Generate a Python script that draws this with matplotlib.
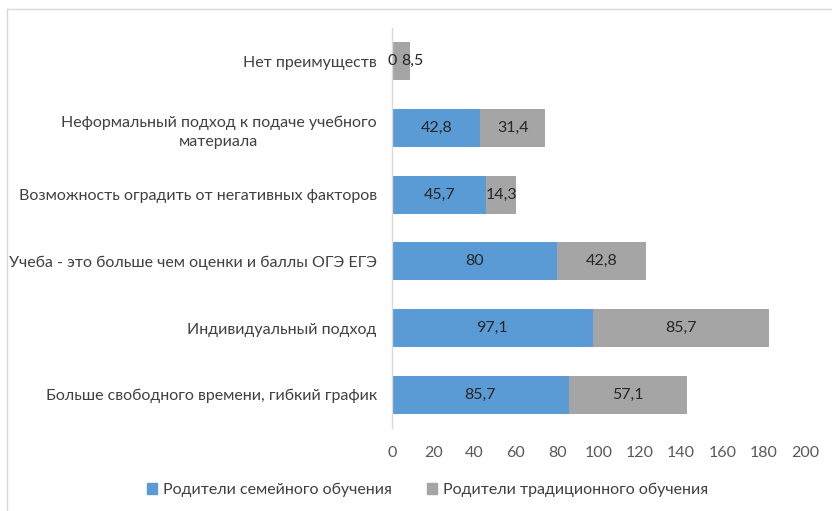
import matplotlib
matplotlib.use("Agg")
import matplotlib.pyplot as plt
from matplotlib.lines import Line2D
from matplotlib.patches import Patch

plt.rcParams['font.family'] = ['Lato', 'DejaVu Sans']

categories = [
    "Больше свободного времени, гибкий график",
    "Индивидуальный подход",
    "Учеба - это больше чем оценки и баллы ОГЭ ЕГЭ",
    "Возможность оградить от негативных факторов",
    "Неформальный подход к подаче учебного\nматериала",
    "Нет преимуществ",
]
family = [85.7, 97.1, 80, 45.7, 42.8, 0]
traditional = [57.1, 85.7, 42.8, 14.3, 31.4, 8.5]
series_names = ["Родители семейного обучения", "Родители традиционного обучения"]
xticks = [0, 20, 40, 60, 80, 100, 120, 140, 160, 180, 200]

blue = "#5B9BD5"
gray = "#A5A5A5"
txt = "#595959"
fs = 11.5

fig = plt.figure(figsize=(8.32, 5.11), dpi=100)
ax = fig.add_axes([392/832, 1-428/511, (805-392)/832, 400/511])

y = list(range(len(categories)))
h = 0.57
ax.barh(y, family, height=h, color=blue, label=series_names[0])
ax.barh(y, traditional, left=family, height=h, color=gray, label=series_names[1])

def fmt(v):
    return f"{v:g}".replace(".", ",")

for i in y:
    f, t = family[i], traditional[i]
    ax.text(f/2, i, fmt(f), ha='center', va='center', fontsize=fs, color="#262626")
    dx = 0
    if f < 10 and t < 10:
        dx = 12 / 2.065
    ax.text(f + t/2 + dx, i, fmt(t), ha='center', va='center', fontsize=fs, color="#262626")

ax.set_xlim(0, 200)
ax.set_ylim(-0.5, len(categories) - 0.5)
ax.set_xticks(xticks)
ax.set_xticklabels([str(v) for v in xticks], fontsize=fs, color=txt)
ax.set_yticks(y)
ax.set_yticklabels(categories, fontsize=fs, color="#404040", multialignment='center',
                   linespacing=1.45)
ax.tick_params(axis='both', length=0)
ax.tick_params(axis='x', pad=13)
ax.tick_params(axis='y', pad=11)
for s in ['top', 'right', 'bottom']:
    ax.spines[s].set_visible(False)
ax.spines['left'].set_color('#D9D9D9')
ax.spines['left'].set_linewidth(1)

handles = [Patch(color=blue), Patch(color=gray)]
fig.legend(handles, series_names, loc='center', bbox_to_anchor=(428/832, 1-490/511),
           ncol=2, frameon=False, fontsize=fs, handlelength=0.6, handleheight=0.6,
           handletextpad=0.4, columnspacing=2.2, labelcolor="#404040")

fig.add_artist(Line2D([7/832, 7/832], [0, 1-9/511], transform=fig.transFigure, color='#D9D9D9', lw=1))
fig.add_artist(Line2D([7/832, 1], [1-9/511, 1-9/511], transform=fig.transFigure, color='#D9D9D9', lw=1))

fig.savefig("out.png", dpi=100)
